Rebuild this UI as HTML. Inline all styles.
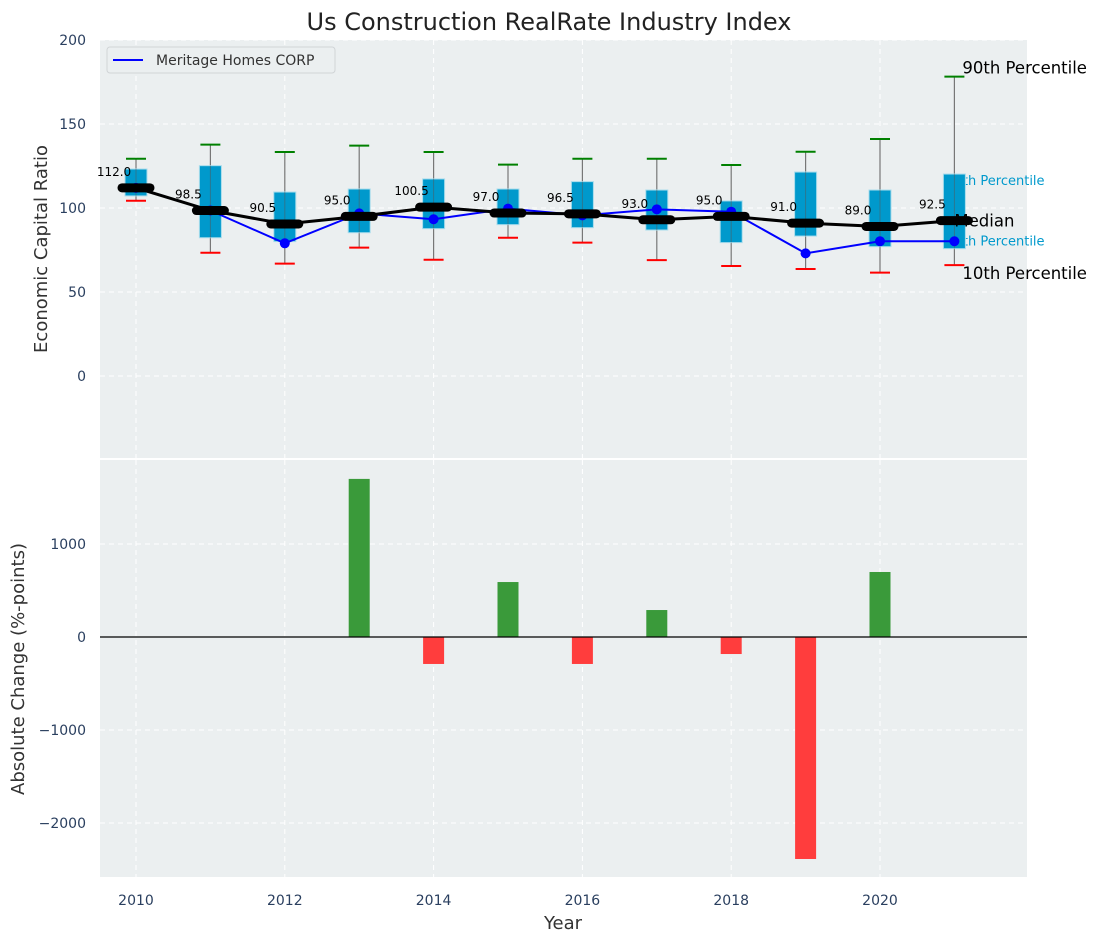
<!DOCTYPE html>
<html><head><meta charset="utf-8">
<style>
html,body{margin:0;padding:0;background:#fff;}
svg{display:block;font-family:"DejaVu Sans","Liberation Sans",sans-serif;}
</style></head>
<body>
<svg id="chart" width="1098" height="942" viewBox="0 0 1098 942" xmlns="http://www.w3.org/2000/svg">
<text x="549" y="30" text-anchor="middle" font-size="24" fill="#222">Us Construction RealRate Industry Index</text>
<rect x="100" y="40" width="927" height="418" fill="#ebeff0"/>
<rect x="100" y="460" width="927" height="417" fill="#ebeff0"/>
<g id="grid"></g>
<g id="marks"></g>
<g id="axes"></g>
<text transform="translate(47,249) rotate(-90)" text-anchor="middle" font-size="18" fill="#333">Economic Capital Ratio</text>
<text transform="translate(24,669) rotate(-90)" text-anchor="middle" font-size="18" fill="#333">Absolute Change (%-points)</text>
<text x="563" y="929" text-anchor="middle" font-size="18" fill="#333">Year</text>
<g>
<rect x="107" y="47" width="228" height="26" rx="3" fill="#ebeff0" stroke="#d0d4d6"/>
<line x1="113" y1="60" x2="143" y2="60" stroke="#0000ff" stroke-width="2"/>
<text x="156" y="65" font-size="14" fill="#333">Meritage Homes CORP</text>
</g>
</svg>
<script>
const years=[2010,2011,2012,2013,2014,2015,2016,2017,2018,2019,2020,2021];
const medians=[112,98.5,90.5,95,100.5,97,96.5,93,95,91,89,92.5];
const q25=[107.2,82.3,80,85.3,87.7,90.1,88.3,86.9,79.4,83.3,77,75.8];
const q75=[123.2,125.2,109.5,111.3,117.3,111.3,115.7,110.7,104.2,121.4,110.7,120.2];
const p10=[104.3,73.4,66.9,76.4,69.2,82.3,79.4,69,65.5,63.7,61.5,66];
const p90=[129.3,137.7,133.3,137.1,133.3,125.8,129.3,129.3,125.6,133.5,141.1,178.2];
const company=[112,98.5,79,96.8,93.3,99.6,95.6,99.2,97.8,73,80.2,80.2];
const changeYears=[2013,2014,2015,2016,2017,2018,2019,2020];
const changes=[1700,-290,591,-290,290,-183,-2387,699];
const topTicks=[0,50,100,150,200];
const bottomTicks=[-2000,-1000,0,1000];
const xTicks=[2010,2012,2014,2016,2018,2020];

const NS="http://www.w3.org/2000/svg";
const X=v=>136+(v-2010)*74.4;
const Y1=v=>376-v*1.68;
const Y2=v=>637-v*0.093;
function mk(parent,tag,attrs){const e=document.createElementNS(NS,tag);for(const k in attrs)e.setAttribute(k,attrs[k]);document.getElementById(parent).appendChild(e);return e;}

xTicks.forEach(t=>{
  let g=mk('grid','line',{x1:X(t),x2:X(t),y1:40,y2:458,stroke:'#fff','stroke-dasharray':'5,4','stroke-width':1});
  
  
  let g2=mk('grid','line',{x1:X(t),x2:X(t),y1:460,y2:877,stroke:'#fff','stroke-dasharray':'5,4','stroke-width':1});
  
  
  let l=mk('axes','text',{x:X(t),y:905,'text-anchor':'middle','font-size':14,fill:'#2a3f5f'});l.textContent=t;
  
  
});
topTicks.forEach(t=>{
  let g=mk('grid','line',{x1:100,x2:1027,y1:Y1(t),y2:Y1(t),stroke:'#fff','stroke-dasharray':'5,4','stroke-width':1});
  
  
  let l=mk('axes','text',{x:86,y:Y1(t)+5,'text-anchor':'end','font-size':14,fill:'#2a3f5f'});l.textContent=t;
  
  
});
bottomTicks.forEach(t=>{
  let g=mk('grid','line',{x1:100,x2:1027,y1:Y2(t),y2:Y2(t),stroke:'#fff','stroke-dasharray':'5,4','stroke-width':1});
  
  
  let l=mk('axes','text',{x:86,y:Y2(t)+5,'text-anchor':'end','font-size':14,fill:'#2a3f5f'});l.textContent=(t<0?'\u2212'+(-t):t);
  
  
});

const last=years.length-1, lx=X(years[last]);
[[q75[last],'75th Percentile','percentile-75-label'],[q25[last],'25th Percentile','percentile-25-label']].forEach(a=>{
  let t=mk('marks','text',{x:lx-8,'font-size':13,fill:'#0099cc'});
  t.setAttribute('y', a[0]>medians[last]?Y1(a[0])+11:Y1(a[0])-3);
  t.textContent=a[1];
  
  
});

years.forEach((yr,i)=>{
  const x=X(yr);
  let w=mk('marks','line',{x1:x,x2:x,y1:Y1(p90[i]),y2:Y1(p10[i]),stroke:'#777','stroke-width':1.2});
  
  
  let b=mk('marks','rect',{x:x-11,y:Y1(q75[i]),width:22,height:Y1(q25[i])-Y1(q75[i]),fill:'#0099cc',stroke:'#a8dcec','stroke-width':1});
  
  
  let w2=mk('marks','line',{x1:x,x2:x,y1:Y1(q75[i]),y2:Y1(q25[i]),stroke:'#555','stroke-width':1,'stroke-opacity':0.5});
  
  
  let c1=mk('marks','line',{x1:x-10,x2:x+10,y1:Y1(p90[i]),y2:Y1(p90[i]),stroke:'green','stroke-width':2});
  
  
  let c2=mk('marks','line',{x1:x-10,x2:x+10,y1:Y1(p10[i]),y2:Y1(p10[i]),stroke:'red','stroke-width':2});
  
  
});
let cp=mk('marks','polyline',{points:years.map((y,i)=>X(y)+','+Y1(company[i])).join(' '),fill:'none',stroke:'#0000ff','stroke-width':2});


years.forEach((y,i)=>{
  let d=mk('marks','circle',{cx:X(y),cy:Y1(company[i]),r:5,fill:'#0000ff'});
  
  
});
let ml=mk('marks','polyline',{points:years.map((y,i)=>X(y)+','+Y1(medians[i])).join(' '),fill:'none',stroke:'#000','stroke-width':3});


years.forEach((y,i)=>{
  let m=mk('marks','line',{x1:X(y)-14,x2:X(y)+14,y1:Y1(medians[i]),y2:Y1(medians[i]),stroke:'#000','stroke-width':9,'stroke-linecap':'round'});
  
  
  let t=mk('marks','text',{x:X(y)-22,y:Y1(medians[i])-12,'text-anchor':'middle','font-size':12,fill:'#000'});
  t.textContent=medians[i].toFixed(1);
  
  
});
[[p90[last],'90th Percentile','percentile-90-label',lx+8,-3],[medians[last],'Median','median-annotation',lx,6],[p10[last],'10th Percentile','percentile-10-label',lx+8,14]].forEach(a=>{
  let t=mk('marks','text',{x:a[3],y:Y1(a[0])+a[4],'font-size':16.5,fill:'#000'});
  t.textContent=a[1];
  
  
});
changeYears.forEach((y,i)=>{
  const v=changes[i];
  let r=mk('marks','rect',{x:X(y)-10.5,width:21,y:Math.min(Y2(0),Y2(v)),height:Math.abs(Y2(v)-Y2(0)),fill:v>=0?'#3a9a3a':'#ff3d3d'});
  
  
});
let zl=mk('marks','line',{x1:100,x2:1027,y1:Y2(0),y2:Y2(0),stroke:'#000','stroke-width':1.2});


</script>
</body></html>
